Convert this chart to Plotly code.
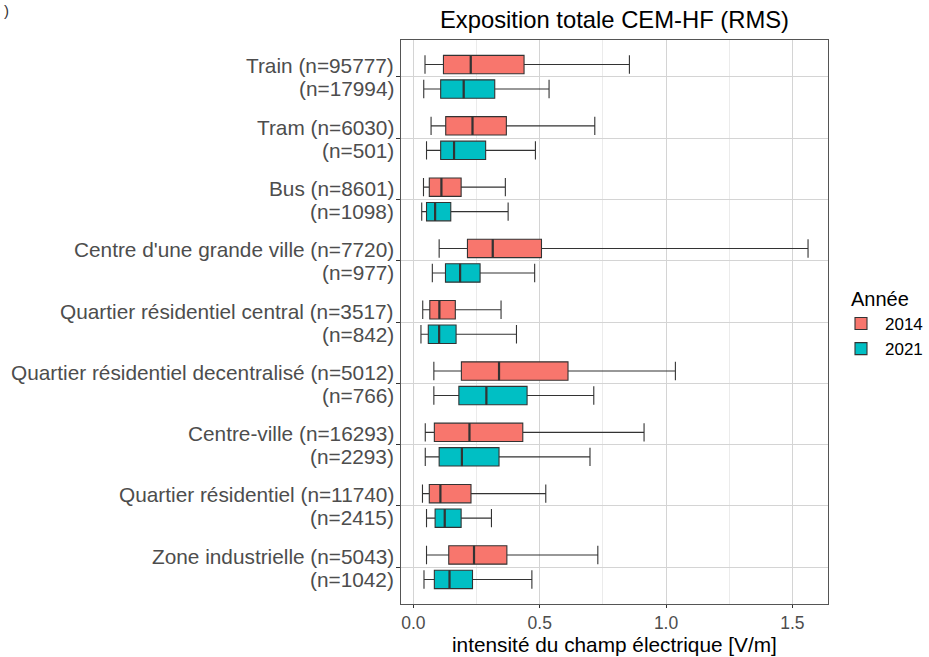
import plotly.graph_objects as go

# Categories (top to bottom) with sample sizes per year
categories = [
    "Train", "Tram", "Bus", "Centre d'une grande ville",
    "Quartier résidentiel central", "Quartier résidentiel decentralisé",
    "Centre-ville", "Quartier résidentiel", "Zone industrielle",
]
n_2014 = [95777, 6030, 8601, 7720, 3517, 5012, 16293, 11740, 5043]
n_2021 = [17994, 501, 1098, 977, 842, 766, 2293, 2415, 1042]

# Box statistics, 2014 (V/m)
low_2014 = [0.046, 0.070, 0.040, 0.102, 0.037, 0.081, 0.047, 0.036, 0.052]
q1_2014 = [0.119, 0.128, 0.063, 0.214, 0.065, 0.190, 0.083, 0.063, 0.140]
med_2014 = [0.227, 0.234, 0.111, 0.314, 0.103, 0.339, 0.222, 0.107, 0.240]
q3_2014 = [0.438, 0.368, 0.189, 0.507, 0.166, 0.612, 0.433, 0.228, 0.370]
up_2014 = [0.855, 0.718, 0.364, 1.562, 0.347, 1.037, 0.913, 0.524, 0.730]

# Box statistics, 2021 (V/m)
low_2021 = [0.041, 0.052, 0.033, 0.075, 0.030, 0.081, 0.047, 0.052, 0.042]
q1_2021 = [0.108, 0.108, 0.052, 0.127, 0.059, 0.180, 0.102, 0.086, 0.083]
med_2021 = [0.199, 0.161, 0.086, 0.185, 0.102, 0.289, 0.192, 0.124, 0.143]
q3_2021 = [0.322, 0.286, 0.148, 0.264, 0.169, 0.450, 0.339, 0.189, 0.234]
up_2021 = [0.537, 0.483, 0.375, 0.480, 0.408, 0.714, 0.699, 0.309, 0.469]

x_ticks = [0.0, 0.5, 1.0, 1.5]

COL_2014 = "#F8766D"
COL_2021 = "#00BFC4"
EDGE = "#333333"
LABEL = "#4D4D4D"
FONT = "Liberation Sans, Arial, sans-serif"
DODGE = 0.2
BOX_W = 0.3

pos = list(range(len(categories)))
pos_2014 = [p - DODGE for p in pos]
pos_2021 = [p + DODGE for p in pos]

fig = go.Figure()


def add_year(name, ypos, low, q1, med, q3, up, color):
    fig.add_trace(go.Box(
        name=name, orientation="h", y=ypos,
        lowerfence=low, q1=q1, median=med, q3=q3, upperfence=up,
        width=BOX_W, whiskerwidth=1.0, boxpoints=False,
        fillcolor=color, line=dict(color=EDGE, width=1.1),
        hoverinfo="x",
    ))
    # thicker median strokes
    mx, my = [], []
    for m, p in zip(med, ypos):
        mx += [m, m, None]
        my += [p - BOX_W / 2, p + BOX_W / 2, None]
    fig.add_trace(go.Scatter(
        x=mx, y=my, mode="lines", showlegend=False, hoverinfo="skip",
        line=dict(color=EDGE, width=2.2),
    ))


add_year("2014", pos_2014, low_2014, q1_2014, med_2014, q3_2014, up_2014, COL_2014)
add_year("2021", pos_2021, low_2021, q1_2021, med_2021, q3_2021, up_2021, COL_2021)

# Two-line category labels with tight line spacing
for p, c, a, b in zip(pos, categories, n_2014, n_2021):
    fig.add_annotation(
        text=f"{c} (n={a})", xref="paper", yref="y", x=0, y=p,
        xanchor="right", yanchor="middle", xshift=-5, yshift=11,
        showarrow=False, font=dict(size=20.8, color=LABEL, family=FONT),
    )
    fig.add_annotation(
        text=f"(n={b})", xref="paper", yref="y", x=0, y=p,
        xanchor="right", yanchor="middle", xshift=-5, yshift=-12,
        showarrow=False, font=dict(size=20.8, color=LABEL, family=FONT),
    )

# x-axis title
fig.add_annotation(
    text="intensité du champ électrique [V/m]", xref="paper", yref="paper",
    x=0.5, y=-(644 - 604) / 564, xanchor="center", yanchor="middle",
    showarrow=False, font=dict(size=20.8, color="#000000", family=FONT),
)

fig.update_layout(
    width=929, height=657,
    margin=dict(l=401, r=101, t=40, b=53, autoexpand=False),
    paper_bgcolor="white", plot_bgcolor="white",
    font=dict(family=FONT, color="#000000"),
    boxmode="overlay",
    title=dict(
        text="Exposition totale CEM-HF (RMS)",
        x=(401 + 828) / 2 / 929, xanchor="center",
        y=1 - 20 / 657, yanchor="middle",
        font=dict(size=23.8, color="#000000"),
    ),
    legend=dict(
        title=dict(text="Année", font=dict(size=20, color="#000000")),
        font=dict(size=17, color="#000000"),
        x=(849 - 401) / 427, xanchor="left",
        y=(604 - 280) / 564, yanchor="top",
        tracegroupgap=0, itemwidth=38, indentation=-12,
        bgcolor="rgba(0,0,0,0)",
    ),
    showlegend=True,
)

fig.update_xaxes(
    range=[-0.049, 1.641],
    tickvals=x_ticks, tickformat=".1f",
    tickfont=dict(size=17.5, color=LABEL),
    ticks="outside", ticklen=3, tickcolor="#333333",
    showgrid=True, gridcolor="#D4D4D4", gridwidth=1,
    minor=dict(dtick=0.25, tick0=0, showgrid=True, gridcolor="#EBEBEB", gridwidth=1),
    showline=True, linecolor="#555555", linewidth=1.2, mirror=True,
    zeroline=False,
)

fig.update_yaxes(
    range=[len(categories) - 0.4, -0.6],
    tickvals=pos, showticklabels=False,
    ticks="outside", ticklen=4, tickcolor="#333333",
    showgrid=True, gridcolor="#D4D4D4", gridwidth=1,
    showline=True, linecolor="#555555", linewidth=1.2, mirror=True,
    zeroline=False,
)

fig.add_annotation(
    text=")", xref="paper", yref="paper",
    x=-401 / 427, y=1 + 40 / 564, xanchor="left", yanchor="top",
    xshift=2, showarrow=False, font=dict(size=15, color="#333333"),
)

fig.write_html("out.html")
